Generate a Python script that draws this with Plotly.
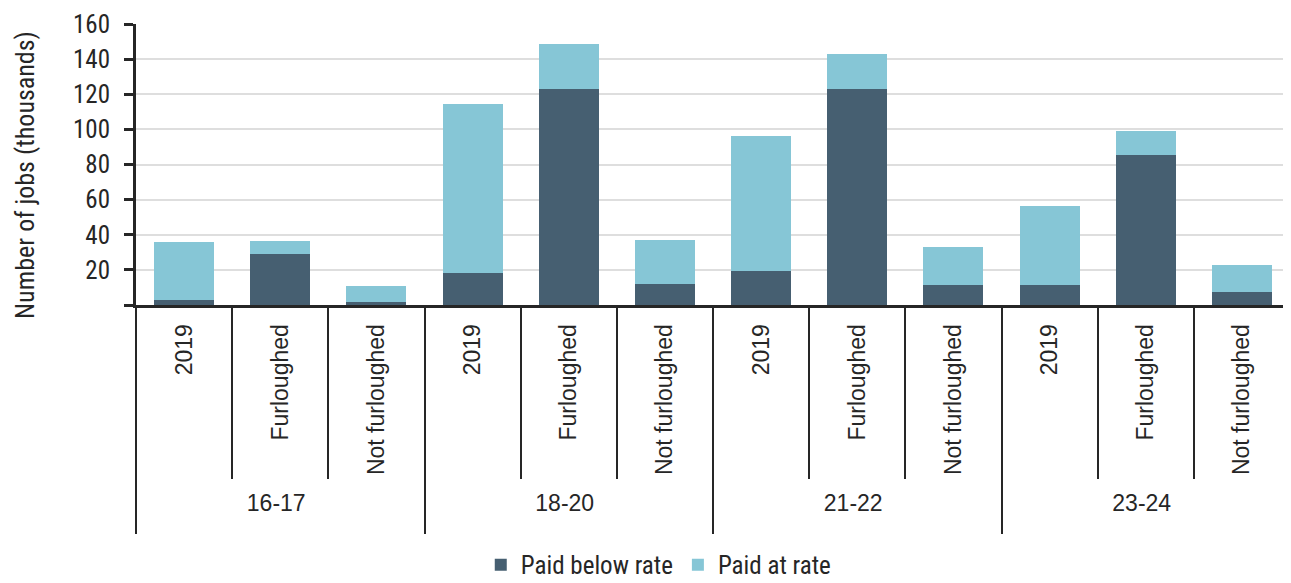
import plotly.graph_objects as go

age_groups = ["16-17", "18-20", "21-22", "23-24"]
statuses = ["2019", "Furloughed", "Not furloughed"]
paid_below = [3, 29, 1.7, 18.4, 123, 12.1, 19.5, 123, 11.6, 11.6, 85.6, 7.6]
paid_at = [33, 7.3, 9, 96, 25.6, 25, 77, 19.7, 21.2, 45, 13.3, 15.2]
y_tick_values = [0, 20, 40, 60, 80, 100, 120, 140, 160]
y_tick_labels = ["", "20", "40", "60", "80", "100", "120", "140", "160"]
y_title = "Number of jobs (thousands)"

outer = [g for g in age_groups for _ in statuses]
inner = [s for _ in age_groups for s in statuses]
n = len(inner)
inner_bounds = [i - 0.5 for i in range(n + 1)]
outer_bounds = [i * len(statuses) - 0.5 for i in range(len(age_groups) + 1)]

COND = "Roboto Condensed, Liberation Sans Narrow, sans-serif"
REG = "Liberation Sans, Arial, sans-serif"
DARK = "#262626"

fig = go.Figure()
fig.add_bar(x=[outer, inner], y=paid_below, name="Paid below rate",
            marker=dict(color="#465f71", line=dict(width=0)))
fig.add_bar(x=[outer, inner], y=paid_at, name="Paid at rate",
            marker=dict(color="#86c6d6", line=dict(width=0)))
# invisible helpers so the divider axes get drawn
fig.add_scatter(x=inner_bounds, y=[0] * len(inner_bounds), xaxis="x2", mode="markers",
                marker=dict(opacity=0), showlegend=False, hoverinfo="skip")
fig.add_scatter(x=outer_bounds, y=[0] * len(outer_bounds), xaxis="x3", mode="markers",
                marker=dict(opacity=0), showlegend=False, hoverinfo="skip")

# page body has an 8px margin: figure drawn at (8, 8)
fig.update_layout(
    barmode="stack", bargap=0.375,
    width=1283, height=575,
    margin=dict(l=128, r=1, t=16, b=278, autoexpand=False),
    plot_bgcolor="white", paper_bgcolor="white",
    font=dict(family=COND, size=25, color=DARK),
    legend=dict(orientation="h", x=0.453, xanchor="center", y=-0.925, yanchor="middle",
                font=dict(family=COND, size=25), traceorder="normal"),
    yaxis=dict(range=[0, 160], tickvals=y_tick_values, ticktext=y_tick_labels,
               showgrid=True, gridcolor="#dedede", gridwidth=2,
               showline=True, linecolor=DARK, linewidth=3, ticks="outside", ticklen=9,
               tickcolor=DARK, tickwidth=3, zeroline=False, automargin=False,
               ticklabelstandoff=9,
               tickfont=dict(family=COND, size=25)),
    xaxis=dict(type="multicategory", showline=True, linecolor=DARK, linewidth=3,
               ticks="outside", tickson="boundaries", ticklen=27, tickcolor="rgba(0,0,0,0)",
               ticklabelstandoff=7,
               showdividers=False, automargin=False,
               tickangle=-90, tickfont=dict(family=REG, size=23)),
    xaxis2=dict(overlaying="x", anchor="y", side="bottom", range=[-0.5, n - 0.5],
                tickmode="array", tickvals=inner_bounds, showticklabels=False,
                ticks="outside", ticklen=173, tickcolor=DARK, tickwidth=2,
                showgrid=False, zeroline=False, showline=False, automargin=False),
    xaxis3=dict(overlaying="x", anchor="y", side="bottom", range=[-0.5, n - 0.5],
                tickmode="array", tickvals=outer_bounds, showticklabels=False,
                ticks="outside", ticklen=228, tickcolor=DARK, tickwidth=2,
                showgrid=False, zeroline=False, showline=False, automargin=False),
    annotations=[dict(text=y_title, textangle=-90, xref="paper", yref="paper",
                      x=-0.0962, y=0.4626, xanchor="center", yanchor="middle",
                      showarrow=False, font=dict(family=COND, size=26, color=DARK))],
)

fig.write_html("out.html")
